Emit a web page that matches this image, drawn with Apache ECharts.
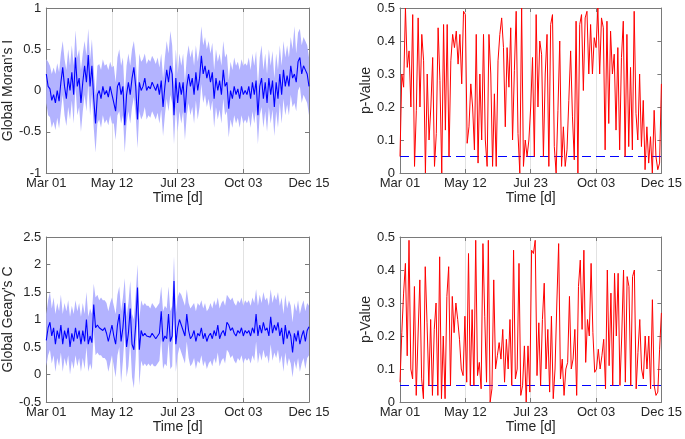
<!DOCTYPE html>
<html>
<head>
<meta charset="utf-8">
<script src="https://cdn.jsdelivr.net/npm/echarts@6/dist/echarts.min.js"></script>
<style>
html,body{margin:0;padding:0;background:#fff;}
#chart{width:685px;height:439px;}
</style>
</head>
<body>
<div id="chart"></div>
<script>
// ---- data (one value every ~2 days, Mar 01 .. Dec 15) ----
const tickLabels = ['Mar 01', 'May 12', 'Jul 23', 'Oct 03', 'Dec 15'];
const spanDays = 289;
const pThreshold = 0.05;

const moranMean = [
0.2,0.05,0.02,-0.12,-0.05,-0.15,0.0,-0.13,0.1,0.28,
0.05,-0.1,0.15,0.0,0.22,-0.05,0.4,0.05,0.15,-0.15,
0.1,0.3,0.1,0.43,0.05,0.3,-0.1,-0.4,-0.05,0.0,
-0.1,0.05,-0.05,0.0,-0.08,0.05,-0.05,-0.05,-0.25,0.05,
0.1,-0.05,0.05,-0.42,-0.05,0.1,-0.05,0.15,0.28,0.05,
-0.35,0.1,0.0,0.05,0.15,0.0,0.05,0.02,0.1,0.05,
0.0,0.08,-0.05,0.12,-0.2,0.05,0.25,0.1,0.3,0.2,
-0.3,0.15,-0.15,0.1,-0.05,0.1,-0.27,0.05,0.2,0.05,
0.15,-0.05,0.22,0.0,0.15,0.42,0.2,0.3,0.15,0.25,
0.1,0.22,-0.1,0.15,0.0,0.12,-0.05,0.25,0.05,0.1,
-0.22,0.0,-0.1,0.05,-0.05,0.02,-0.1,0.05,-0.05,0.0,
-0.05,0.05,-0.1,0.1,-0.05,0.12,-0.3,0.05,0.15,-0.1,
0.1,-0.15,0.15,-0.05,0.12,-0.2,0.1,-0.1,0.2,-0.05,
0.25,0.05,0.18,0.05,0.3,0.15,0.2,0.1,0.35,0.4,
0.2,0.3,0.25,0.2,0.05];
const moranUpper = [
0.38,0.35,0.3,0.2,0.28,0.2,0.33,0.22,0.45,0.6,
0.38,0.25,0.5,0.3,0.55,0.3,0.73,0.4,0.5,0.25,
0.45,0.6,0.42,0.75,0.38,0.62,0.25,-0.05,0.3,0.32,
0.25,0.38,0.3,0.32,0.25,0.35,0.28,0.3,0.1,0.4,
0.5,0.3,0.4,-0.05,0.3,0.45,0.3,0.5,0.6,0.4,
0.0,0.45,0.35,0.38,0.45,0.32,0.38,0.35,0.42,0.38,
0.32,0.4,0.28,0.45,0.15,0.4,0.6,0.45,0.72,0.55,
0.05,0.5,0.2,0.45,0.3,0.45,0.1,0.4,0.55,0.4,
0.5,0.3,0.55,0.35,0.5,0.78,0.55,0.65,0.5,0.6,
0.45,0.58,0.25,0.5,0.35,0.45,0.3,0.6,0.4,0.45,
0.12,0.35,0.25,0.4,0.3,0.35,0.25,0.38,0.3,0.33,
0.3,0.4,0.25,0.45,0.3,0.48,0.05,0.4,0.55,0.25,
0.45,0.2,0.5,0.3,0.48,0.15,0.45,0.25,0.55,0.3,
0.6,0.4,0.55,0.4,0.65,0.5,0.78,0.45,0.7,0.75,
0.55,0.65,0.6,0.55,0.4];
const moranLower = [
-0.15,-0.3,-0.32,-0.45,-0.38,-0.48,-0.33,-0.46,-0.25,-0.05,
-0.3,-0.43,-0.2,-0.35,-0.12,-0.4,0.05,-0.3,-0.2,-0.5,
-0.25,-0.05,-0.25,0.08,-0.3,-0.05,-0.45,-0.75,-0.4,-0.35,
-0.45,-0.3,-0.4,-0.35,-0.42,-0.3,-0.4,-0.4,-0.6,-0.3,
-0.25,-0.4,-0.3,-0.75,-0.4,-0.25,-0.4,-0.2,-0.08,-0.3,
-0.7,-0.25,-0.35,-0.3,-0.2,-0.35,-0.3,-0.33,-0.25,-0.3,
-0.35,-0.27,-0.4,-0.23,-0.55,-0.3,-0.1,-0.25,-0.05,-0.15,
-0.65,-0.2,-0.5,-0.25,-0.4,-0.25,-0.6,-0.3,-0.15,-0.3,
-0.2,-0.4,-0.12,-0.35,-0.2,0.08,-0.15,-0.05,-0.2,-0.1,
-0.25,-0.12,-0.45,-0.2,-0.35,-0.23,-0.4,-0.1,-0.3,-0.25,
-0.57,-0.35,-0.45,-0.3,-0.4,-0.33,-0.45,-0.3,-0.4,-0.35,
-0.4,-0.3,-0.45,-0.25,-0.4,-0.23,-0.65,-0.3,-0.2,-0.45,
-0.25,-0.5,-0.2,-0.4,-0.23,-0.55,-0.25,-0.45,-0.15,-0.4,
-0.1,-0.3,-0.17,-0.3,-0.05,-0.2,-0.15,-0.25,0.0,0.05,
-0.15,-0.05,-0.1,-0.15,-0.3];
const moranP = [
0.05,0.3,0.26,0.5,0.32,0.37,0.2,0.48,0.02,0.19,
0.47,0.2,0.42,0.34,0.0,0.3,0.1,0.2,0.35,0.02,
0.12,0.44,0.28,0.0,0.45,0.13,0.45,0.05,0.34,0.42,
0.38,0.43,0.33,0.42,0.27,0.49,0.48,0.09,0.14,0.27,
0.2,0.07,0.42,0.03,0.3,0.1,0.42,0.1,0.02,0.42,
0.3,0.02,0.24,0.02,0.34,0.42,0.47,0.38,0.14,0.38,
0.26,0.44,0.1,0.31,0.49,0.12,0.0,0.5,0.02,0.1,
0.05,0.1,0.2,0.35,0.05,0.48,0.2,0.4,0.36,0.05,
0.3,0.42,0.02,0.45,0.48,0.08,0.0,0.19,0.4,0.02,
0.14,0.02,0.07,0.22,0.37,0.17,0.04,0.46,0.0,0.45,
0.48,0.25,0.47,0.49,0.3,0.45,0.3,0.41,0.38,0.5,
0.3,0.47,0.44,0.07,0.46,0.15,0.43,0.3,0.36,0.13,
0.38,0.07,0.35,0.46,0.05,0.42,0.08,0.32,0.07,0.49,
0.18,0.1,0.3,0.08,0.22,0.01,0.14,0.03,0.11,0.0,
0.19,0.05,0.01,0.03,0.27];

const gearyMean = [
0.62,0.85,0.95,0.7,0.85,0.55,0.8,0.65,0.9,0.55,
0.8,0.65,0.85,0.5,0.75,0.6,0.85,0.65,0.8,0.55,
0.8,0.6,1.0,0.55,0.7,0.58,1.27,0.85,0.9,0.85,
0.88,0.8,0.85,0.75,0.6,0.75,0.9,0.7,0.55,0.9,
1.1,0.6,0.85,1.3,0.5,0.75,1.2,0.55,0.45,0.9,
1.58,0.45,0.8,0.7,0.75,0.7,0.72,0.68,0.75,0.7,
0.65,0.7,0.75,1.15,0.6,0.7,0.65,1.1,0.6,0.7,
1.7,0.55,0.85,1.0,0.9,0.8,0.7,1.1,0.8,0.65,
0.7,0.8,0.6,0.75,0.7,0.85,0.65,0.75,0.6,0.7,
0.75,0.65,0.8,0.7,0.9,0.65,0.75,0.8,0.7,0.95,
0.9,0.8,0.85,0.75,0.7,0.8,0.75,0.85,0.7,0.8,
0.75,0.8,0.7,0.85,0.75,1.1,0.7,0.9,0.75,0.95,
0.8,0.85,0.7,1.05,0.75,0.9,0.8,0.95,0.7,0.85,
0.55,0.9,0.65,0.8,0.7,0.4,0.75,0.6,0.8,0.55,
0.7,0.8,0.6,0.8,0.87];
const gearyUpper = [
1.1,1.35,1.5,1.2,1.4,1.1,1.3,1.15,1.45,1.1,
1.3,1.15,1.35,1.05,1.25,1.1,1.35,1.15,1.3,1.05,
1.3,1.1,1.5,1.05,1.2,1.1,1.65,1.4,1.45,1.35,
1.4,1.35,1.35,1.3,1.15,1.3,1.4,1.25,1.1,1.45,
1.6,1.15,1.4,1.75,1.05,1.3,1.7,1.1,1.0,1.45,
2.0,1.0,1.35,1.25,1.3,1.25,1.25,1.2,1.3,1.25,
1.2,1.25,1.3,1.6,1.15,1.25,1.2,1.6,1.15,1.25,
2.15,1.1,1.4,1.5,1.45,1.35,1.25,1.55,1.3,1.2,
1.25,1.3,1.15,1.3,1.25,1.35,1.2,1.3,1.15,1.2,
1.3,1.2,1.35,1.25,1.4,1.2,1.3,1.35,1.25,1.45,
1.4,1.35,1.4,1.3,1.25,1.35,1.3,1.4,1.25,1.35,
1.3,1.35,1.25,1.4,1.3,1.55,1.25,1.45,1.3,1.5,
1.35,1.4,1.25,1.55,1.3,1.45,1.35,1.5,1.25,1.4,
1.1,1.45,1.2,1.35,1.25,0.95,1.3,1.15,1.35,1.1,
1.25,1.35,1.15,1.3,1.25];
const gearyLower = [
0.15,0.35,0.45,0.2,0.35,0.05,0.3,0.15,0.4,0.05,
0.3,0.15,0.35,0.0,0.25,0.1,0.35,0.15,0.3,0.05,
0.3,0.1,0.5,0.05,0.2,0.08,0.8,0.35,0.4,0.35,
0.35,0.3,0.3,0.25,0.05,0.2,0.35,0.15,-0.05,0.35,
0.5,-0.15,0.25,0.75,-0.05,0.15,0.6,-0.05,-0.25,0.3,
1.1,-0.2,0.25,0.15,0.2,0.15,0.2,0.15,0.2,0.15,
0.15,0.2,0.25,0.65,0.1,0.2,0.15,0.6,0.1,0.15,
1.25,0.05,0.35,0.5,0.4,0.3,0.2,0.6,0.3,0.15,
0.2,0.3,0.1,0.25,0.2,0.35,0.15,0.25,0.1,0.2,
0.25,0.15,0.3,0.2,0.4,0.15,0.25,0.3,0.2,0.45,
0.4,0.3,0.35,0.25,0.2,0.3,0.25,0.35,0.2,0.3,
0.25,0.3,0.2,0.35,0.25,0.6,0.2,0.4,0.25,0.45,
0.3,0.35,0.2,0.55,0.25,0.4,0.3,0.45,0.2,0.35,
0.05,0.4,0.15,0.3,0.2,-0.05,0.25,0.1,0.3,0.05,
0.2,0.3,0.1,0.3,0.35];
const gearyP = [
0.06,0.21,0.33,0.42,0.14,0.49,0.1,0.07,0.35,0.02,
0.2,0.37,0.07,0.01,0.41,0.24,0.05,0.25,0.02,0.22,
0.3,0.02,0.44,0.01,0.2,0.01,0.32,0.41,0.05,0.32,
0.21,0.3,0.25,0.19,0.1,0.08,0.26,0.06,0.45,0.05,
0.28,0.05,0.49,0.08,0.12,0.04,0.48,0.26,0.06,0.49,
0.0,0.04,0.37,0.1,0.14,0.18,0.13,0.22,0.06,0.19,
0.1,0.25,0.05,0.46,0.07,0.1,0.42,0.02,0.05,0.17,
0.0,0.17,0.03,0.46,0.45,0.49,0.08,0.24,0.05,0.25,
0.36,0.1,0.22,0.03,0.26,0.01,0.1,0.3,0.48,0.07,
0.13,0.02,0.1,0.12,0.32,0.1,0.13,0.22,0.02,0.35,
0.43,0.22,0.46,0.12,0.25,0.2,0.42,0.21,0.09,0.1,
0.16,0.1,0.14,0.19,0.04,0.4,0.11,0.33,0.05,0.39,
0.2,0.39,0.05,0.2,0.4,0.06,0.38,0.35,0.05,0.38,
0.4,0.04,0.15,0.25,0.1,0.07,0.2,0.1,0.2,0.04,
0.31,0.05,0.02,0.03,0.16,0.27];

// ---- helpers ----
function dayAt(i, n) { return i * spanDays / (n - 1); }
function pairs(arr) { return arr.map((v, i) => [dayAt(i, arr.length), v]); }

const FONT = 'Liberation Sans, Arial, Helvetica, sans-serif';
const TXT = '#262626';
const BOX = '#7a7a7a';

const grids = [
  { left: 45, top: 8, width: 264, height: 165 },
  { left: 400, top: 8, width: 265, height: 165 },
  { left: 45, top: 237, width: 264, height: 165 },
  { left: 400, top: 237, width: 265, height: 165 }
];
const yCfg = [
  { min: -1, max: 1, interval: 0.5, name: "Global Moran's I", gap: 25 },
  { min: 0, max: 0.5, interval: 0.1, name: 'p-Value', gap: 22 },
  { min: -0.5, max: 2.5, interval: 0.5, name: "Global Geary's C", gap: 25 },
  { min: 0, max: 0.5, interval: 0.1, name: 'p-Value', gap: 22 }
];

const xAxes = [], yAxes = [];
grids.forEach((g, k) => {
  const tick = { show: true, inside: true, length: 4, lineStyle: { color: BOX, width: 1 } };
  const line = { show: true, onZero: false, lineStyle: { color: BOX, width: 1 } };
  xAxes.push({
    gridIndex: k, type: 'value', position: 'bottom', min: 0, max: spanDays, interval: spanDays / 4,
    axisLine: line, axisTick: tick,
    splitLine: { show: true, lineStyle: { color: '#e2e2e2', width: 1 } },
    axisLabel: { show: true, margin: 4, color: TXT, fontSize: 13, fontFamily: FONT,
      showMinLabel: true, showMaxLabel: true, hideOverlap: false,
      formatter: v => tickLabels[Math.round(v / (spanDays / 4))] },
    name: 'Time [d]', nameLocation: 'middle', nameGap: 17,
    nameTextStyle: { color: TXT, fontSize: 14, fontFamily: FONT }
  });
  xAxes.push({
    gridIndex: k, type: 'value', position: 'top', min: 0, max: spanDays, interval: spanDays / 4,
    axisLine: line, axisTick: tick, splitLine: { show: false }, axisLabel: { show: false }
  });
  const c = yCfg[k];
  yAxes.push({
    gridIndex: k, type: 'value', position: 'left', min: c.min, max: c.max, interval: c.interval,
    axisLine: line, axisTick: tick, splitLine: { show: false },
    axisLabel: { show: true, margin: 5, color: TXT, fontSize: 13, fontFamily: FONT,
      showMinLabel: true, showMaxLabel: true },
    name: c.name, nameLocation: 'middle', nameGap: c.gap, nameRotate: 90,
    nameTextStyle: { color: TXT, fontSize: 14, fontFamily: FONT }
  });
  yAxes.push({
    gridIndex: k, type: 'value', position: 'right', min: c.min, max: c.max, interval: c.interval,
    axisLine: line, axisTick: tick, splitLine: { show: false }, axisLabel: { show: false }
  });
});

// band drawn as one polygon through the axis scales (api.coord)
function band(k, lower, upper) {
  const n = upper.length;
  return {
    type: 'custom', xAxisIndex: 2 * k, yAxisIndex: 2 * k, silent: true, clip: true, z: 2,
    data: [[0, 0]],
    renderItem: function (params, api) {
      const pts = [];
      for (let i = 0; i < n; i++) pts.push(api.coord([dayAt(i, n), upper[i]]));
      for (let i = n - 1; i >= 0; i--) pts.push(api.coord([dayAt(i, n), lower[i]]));
      return { type: 'polygon', shape: { points: pts }, style: { fill: '#b3b3ff', stroke: null } };
    }
  };
}
function meanLine(k, arr) {
  return { type: 'line', xAxisIndex: 2 * k, yAxisIndex: 2 * k, data: pairs(arr), symbol: 'none',
    lineStyle: { color: '#0000ff', width: 1.1 }, z: 5 };
}
function pLine(k, arr) {
  return { type: 'line', xAxisIndex: 2 * k, yAxisIndex: 2 * k, data: pairs(arr), symbol: 'none',
    lineStyle: { color: '#ff0000', width: 1 }, z: 5,
    markLine: { silent: true, symbol: 'none', label: { show: false },
      lineStyle: { color: '#0000ff', type: [9, 5], width: 1.2 },
      data: [{ yAxis: pThreshold }] } };
}

const series = [
  band(0, moranLower, moranUpper), meanLine(0, moranMean),
  pLine(1, moranP),
  band(2, gearyLower, gearyUpper), meanLine(2, gearyMean),
  pLine(3, gearyP)
];

const chart = echarts.init(document.getElementById('chart'), null, { renderer: 'canvas' });
chart.setOption({
  animation: false,
  backgroundColor: '#ffffff',
  grid: grids.map(g => Object.assign({ containLabel: false }, g)),
  xAxis: xAxes,
  yAxis: yAxes,
  series: series
});
</script>
</body>
</html>
